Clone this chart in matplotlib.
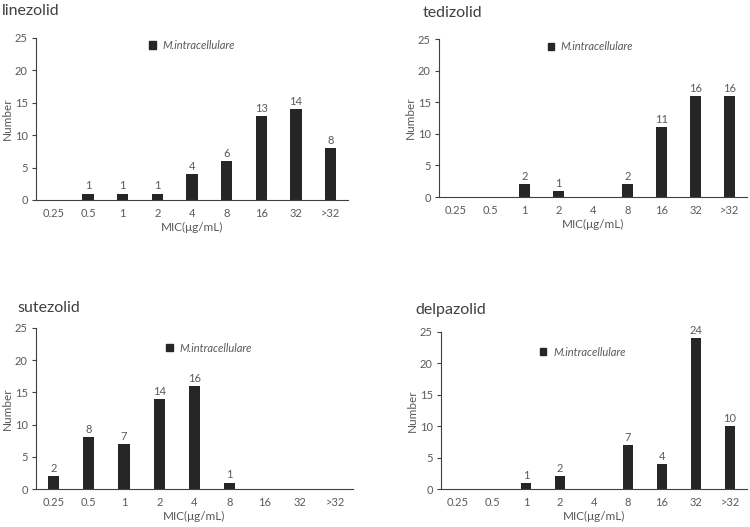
import matplotlib.pyplot as plt
from matplotlib.patches import Patch

plt.rcParams['font.family'] = ['Lato', 'DejaVu Sans']

mic = ["0.25", "0.5", "1", "2", "4", "8", "16", "32", ">32"]
linezolid = [0, 1, 1, 1, 4, 6, 13, 14, 8]
tedizolid = [0, 0, 2, 1, 0, 2, 11, 16, 16]
sutezolid = [2, 8, 7, 14, 16, 1, 0, 0, 0]
delpazolid = [0, 0, 1, 2, 0, 7, 4, 24, 10]
species = "M.intracellulare"

text_c = "#595959"
bar_c = "#262626"

W, H = 750, 527
fig = plt.figure(figsize=(7.5, 5.27), dpi=100)


def px_axes(l, t, r, b):
    return fig.add_axes([l / W, 1 - b / H, (r - l) / W, (b - t) / H])


panels = [
    ("linezolid", linezolid, (36, 38, 348, 200), (2, 11), (0.33, 1.05)),
    ("tedizolid", tedizolid, (439, 39, 747, 197), (423, 13), (0.32, 1.05)),
    ("sutezolid", sutezolid, (36, 328, 353, 489), (17, 308), (0.38, 0.97)),
    ("delpazolid", delpazolid, (441, 332, 747, 489), (415, 310), (0.29, 0.97)),
]

for name, vals, box, tpos, lpos in panels:
    ax = px_axes(*box)
    x = list(range(len(mic)))
    ax.bar(x, vals, width=0.32, color=bar_c)
    for xi, v in zip(x, vals):
        if v > 0:
            ax.annotate(str(v), (xi, v), xytext=(0, 1.5), textcoords="offset points",
                        ha="center", va="bottom", fontsize=8, color=text_c)
    ax.set_xlim(-0.5, 8.5)
    ax.set_ylim(0, 25)
    ax.set_yticks([0, 5, 10, 15, 20, 25])
    ax.set_xticks(x)
    ax.set_xticklabels(mic)
    ax.tick_params(axis="x", length=0, labelsize=8, labelcolor=text_c, pad=6)
    ax.tick_params(axis="y", length=3, direction="out", labelsize=8,
                   labelcolor=text_c, color="#404040", pad=3)
    for s in ["top", "right"]:
        ax.spines[s].set_visible(False)
    for s in ["left", "bottom"]:
        ax.spines[s].set_color("#404040")
        ax.spines[s].set_linewidth(0.8)
    ax.set_xlabel("MIC(μg/mL)", fontsize=8.5, color=text_c, labelpad=2)
    ax.set_ylabel("Number", fontsize=8.5, color=text_c, labelpad=1)
    ax.legend(handles=[Patch(color=bar_c, label=species)], loc="upper left",
              bbox_to_anchor=lpos, frameon=False, handlelength=0.6,
              handleheight=0.6, handletextpad=0.6,
              prop={"style": "italic", "size": 8}, labelcolor=text_c)
    fig.text(tpos[0] / W, 1 - tpos[1] / H, name, fontsize=11.5, color="#404040",
             ha="left", va="center")

fig.savefig("out.png", dpi=100)
